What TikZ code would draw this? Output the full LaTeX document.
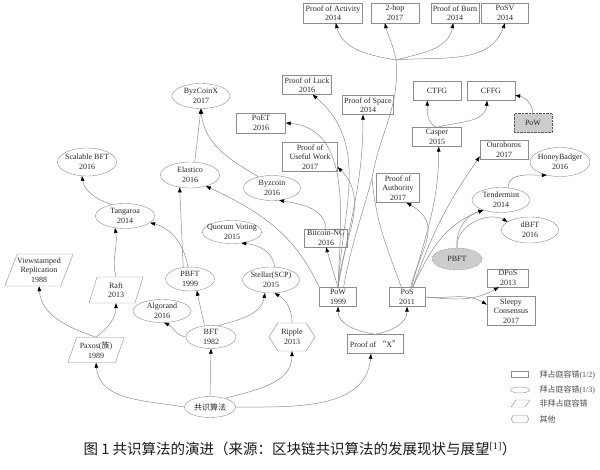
\documentclass[tikz,border=0pt]{standalone}
\usepackage{fontspec}
\setmainfont{Liberation Serif}
\newfontfamily\cjk{Noto Sans CJK SC}
\usepackage{tikz}
\usetikzlibrary{arrows.meta, shapes.geometric, shapes.symbols}

\begin{document}
\begin{tikzpicture}[x=1pt, y=1pt,
    every node/.style={font=\fontsize{8}{9.5}\selectfont, text=black!85, align=center},
    box/.style={rectangle, draw=gray!90, inner sep=1pt, minimum width=48pt, minimum height=19pt},
    oval/.style={ellipse, draw=gray!90, inner xsep=-4.5pt, inner ysep=0pt, minimum width=58pt, minimum height=25pt},
    para/.style={trapezium, trapezium left angle=65, trapezium right angle=115, trapezium stretches body, draw=gray!90, inner xsep=0pt, inner ysep=1pt},
    hexa/.style={signal, signal to=west and east, signal pointer angle=115, draw=gray!90, inner sep=0pt},
    greyed/.style={fill=gray!40, draw=gray!70!black, densely dotted},
    link/.style={draw=gray!90, line width=0.5pt, -{Triangle[length=5pt, width=3.6pt, color=black]}},
    wire/.style={draw=gray!90, line width=0.5pt}]
    \useasboundingbox (0, 0) rectangle (600, -469);

    \node[box, minimum width=59pt, minimum height=20pt] at (333, -13)   (pact) {Proof of Activity\\2014};
    \node[box, minimum height=20pt] at (395, -13)   (twohop) {2-hop\\2017};
    \node[box, minimum height=20pt] at (455, -13)   (pburn) {Proof of Burn\\2014};
    \node[box, minimum width=47pt, minimum height=20pt] at (505, -13)   (posv) {PoSV\\2014};
    \node[oval] at (201, -96)   (byzx) {ByzCoinX\\2017};
    \node[box, minimum width=49pt] at (307, -85)   (pluck) {Proof of Luck\\2016};
    \node[box, minimum width=51pt] at (368, -105)   (pspace) {Proof of Space\\2014};
    \node[box, minimum width=49pt, minimum height=20pt] at (261, -123)   (poet) {PoET\\2016};
    \node[box] at (437, -91)   (ctfg) {CTFG};
    \node[box] at (491, -91)   (cffg) {CFFG};
    \node[box, greyed, minimum width=38pt] at (533, -123)   (powg) {PoW};
    \node[box, minimum width=49pt] at (437, -137)   (casper) {Casper\\2015};
    \node[box] at (504, -150)   (ouro) {Ouroboros\\2017};
    \node[oval, minimum width=60pt, minimum height=29pt] at (560, -162)   (hbadger) {HoneyBadger\\2016};
    \node[box, minimum width=55pt, minimum height=29pt] at (310, -157)   (puw) {Proof of\\Useful Work\\2017};
    \node[oval, minimum width=59pt, minimum height=28pt] at (87, -162)   (sbft) {Scalable BFT\\2016};
    \node[oval, minimum width=59pt, minimum height=26pt] at (190, -175)   (elastico) {Elastico\\2016};
    \node[oval, minimum width=57pt] at (272, -188)   (byzcoin) {Byzcoin\\2016};
    \node[box, minimum width=43pt, minimum height=29pt] at (398, -188)   (poa) {Proof of\\Authority\\2017};
    \node[oval] at (501, -200)   (tmint) {Tendermint\\2014};
    \node[oval, minimum width=59pt] at (125, -216)   (tangaroa) {Tangaroa\\2014};
    \node[oval, minimum width=59pt, minimum height=23pt] at (232, -232)   (qvote) {Quorum Voting\\2015};
    \node[oval, minimum width=57pt, minimum height=26pt] at (530, -230)   (dbft) {dBFT\\2016};
    \node[box, minimum width=43pt, minimum height=18pt] at (326, -238)   (btcng) {Bitcoin-NG\\2016};
    \node[oval, greyed, minimum width=50pt, minimum height=22pt] at (457, -259)   (pbftg) {PBFT};
    \node[para, minimum width=62pt, minimum height=32pt] at (39, -270)   (vsr) {Viewstamped\\Replication\\1988};
    \node[box, minimum width=41pt, minimum height=18pt] at (508, -278)   (dpos) {DPoS\\2013};
    \node[oval, minimum width=49pt, minimum height=24pt] at (190, -279)   (pbft) {PBFT\\1999};
    \node[oval, minimum width=57pt, minimum height=26pt] at (271, -280)   (stellar) {Stellar(SCP)\\2015};
    \node[para, minimum width=54pt, minimum height=26pt] at (116, -290)   (raft) {Raft\\2013};
    \node[box, minimum width=37pt] at (338, -297)   (pow) {PoW\\1999};
    \node[box, minimum width=36pt] at (407, -297)   (pos) {PoS\\2011};
    \node[oval, minimum height=23pt] at (162, -311)   (algorand) {Algorand\\2016};
    \node[box, minimum height=29pt] at (511, -311)   (sleepy) {Sleepy\\Consensus\\2017};
    \node[oval, minimum width=50pt, minimum height=23pt] at (211, -337)   (bft) {BFT\\1982};
    \node[hexa, minimum width=46pt, minimum height=28pt] at (292, -337)   (ripple) {Ripple\\2013};
    \node[box, minimum width=56pt] at (375, -344)   (pox) {Proof of {\cjk “}X{\cjk ”}};
    \node[para, minimum width=56pt, minimum height=25pt] at (96, -350)   (paxos) {Paxos({\cjk 族})\\1989};
    \node[oval, minimum width=51pt, minimum height=21pt] at (210, -407)   (root) {\cjk 共识算法};

    \coordinate (mix) at (372, -178);
    \coordinate (hub) at (396, -60);

    \draw [link] (root.west) to[out=170, in=-85] (paxos.south);
    \draw [link] (root.north) -- (bft.south);
    \draw [link] (root.30) to[out=15, in=-90] (ripple.south);
    \draw [link] (root.east) to[out=0, in=-95] ([xshift=-4pt]pox.south);
    \draw [link] (pox.north) to[out=170, in=-90] (pow.south);
    \draw [link] (pox.north) to[out=10, in=-90] (pos.south);
    \draw [link] (pow.north) -- (btcng.south);
    \draw [link] (btcng.north) to[out=95, in=-10] (byzcoin.-60);
    \draw [link] (byzcoin.140) to[out=150, in=-85] (byzx.south);
    \draw [link] (elastico.70) -- (byzx.south);
    \draw [link] (pow.north west) to[out=115, in=-25] (elastico.-35);
    \draw [link] (pow.north) to[out=88, in=-5] (poet.east);
    \draw [link] (pow.north) to[out=87, in=-40] (pluck.-60);
    \draw [link] (pow.north) to[out=85, in=-45] (puw.-20);
    \draw [link] (pow.north) to[out=80, in=-90] ([xshift=-5pt]pspace.south);
    \draw [wire] (pow.60) to[out=80, in=-105] (mix);
    \draw [wire] (pos.120) to[out=110, in=-85] (mix);
    \draw [wire] (mix) to[out=80, in=-85] (hub);
    \draw [link] (hub) to[out=170, in=-75] (pact.-75);
    \draw [link] (hub) to[out=100, in=-75] (twohop.-135);
    \draw [link] (hub) to[out=15, in=-100] (pburn.-100);
    \draw [link] (hub) to[out=5, in=-110] (posv.south);
    \draw [link] (pos.70) to[out=75, in=-30, looseness=1.3] (poa.-60);
    \draw [link] (pos.65) to[out=75, in=-90] (casper.-80);
    \draw [link] (pos.60) to[out=70, in=-125] (ouro.-165);
    \draw [link] (pos.60) to[out=65, in=-160] (tmint.-150);
    \draw [link] (pos.east) to[out=-5, in=-150] (dpos.-135);
    \draw [link] (pos.east) to[out=-5, in=150] (sleepy.165);
    \draw [link] (pbftg.north) to[out=95, in=-165] (tmint.-150);
    \draw [link] (pbftg.north) to[out=95, in=150] (dbft.160);
    \draw [link] (tmint.60) to[out=90, in=180] (hbadger.-135);
    \draw [link] (powg.north) to[out=95, in=-10] (cffg.-10);
    \draw [link] (casper.north) to[out=160, in=-90] (ctfg.-135);
    \draw [link] (casper.north) to[out=15, in=-95] (cffg.-112);
    \draw [link] (bft.west) to[out=170, in=-25] (algorand.-80);
    \draw [link] (bft.120) -- (pbft.-60);
    \draw [link] (bft.60) to[out=15, in=-100] (stellar.-115);
    \draw [link] (ripple.north) to[out=90, in=-30] (stellar.-75);
    \draw [link] (stellar.75) to[out=95, in=-5] (qvote.-50);
    \draw [link] (pbft.120) -- (elastico.-130);
    \draw [link] (pbft.100) to[out=100, in=-15] (tangaroa.-15);
    \draw [link] (raft.north) to[out=105, in=-80] (tangaroa.-130);
    \draw [link] (tangaroa.140) to[out=160, in=-80] (sbft.-110);
    \draw [link] (paxos.north) to[out=160, in=-85] (vsr.south);
    \draw [link] (paxos.north) to[out=40, in=-90] (raft.south);

    \node[box, minimum width=17pt, minimum height=6pt, inner sep=0pt] at (520, -374.5)   (lbox) {};
    \node[oval, minimum width=19pt, minimum height=6pt] at (520, -390)   (loval) {};
    \node[box, xslant=0.7, transform shape, minimum width=14pt, minimum height=7pt, inner sep=0pt] at (520.5, -403.5)   (lpara) {};
    \node[hexa, minimum width=18pt, minimum height=7pt] at (520, -419)   (lhexa) {};
    \node[anchor=west, text=black!70] at (536, -374.5)   (tbox) {{\cjk 拜占庭容错}(1/2)};
    \node[anchor=west, text=black!70] at (536, -390)   (toval) {{\cjk 拜占庭容错}(1/3)};
    \node[anchor=west, text=black!70] at (536, -403.5)   (tpara) {\cjk 非拜占庭容错};
    \node[anchor=west, text=black!70] at (536, -419)   (thexa) {\cjk 其他};

    \node[font=\fontsize{14.5}{16}\selectfont, text=black!90] at (300, -449)   (cap) {{\cjk 图 1 共识算法的演进（来源：区块链共识算法的发展现状与展望}\textsuperscript{[1]}{\cjk ）}};
\end{tikzpicture}
\end{document}
